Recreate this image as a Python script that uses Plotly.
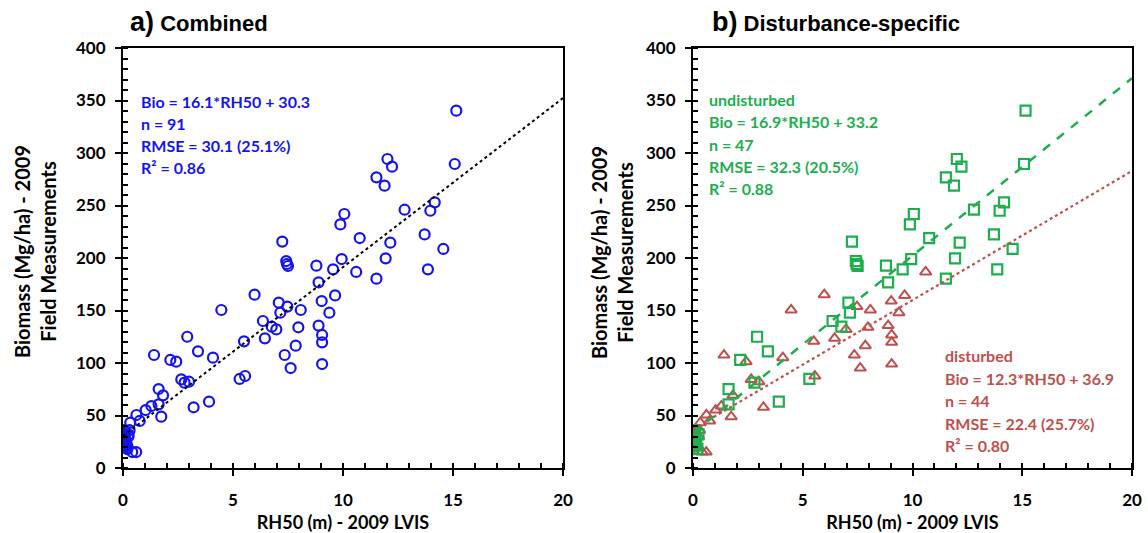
import plotly.graph_objects as go

# ---------------- data ----------------
undist_x = [15.15, 15.08, 12.02, 12.23, 11.52, 11.89, 12.8, 14.17, 13.97, 10.06,
            9.88, 10.76, 13.71, 7.24, 12.15, 14.56, 7.42, 7.45, 7.5, 9.94,
            11.94, 8.79, 9.55, 13.86, 11.52, 8.89, 7.08, 7.15, 6.36, 6.76,
            2.92, 3.41, 2.15, 5.3, 1.62, 1.62, 3.91, 2.8,
            0.0, 0.1, 0.05, 0.0, 0.2, 0.15, 0.05, 0.25, 0.1]
undist_y = [340.3, 289.5, 294.3, 287.0, 276.8, 268.9, 246.0, 253.0, 245.0, 241.9,
            232.0, 219.0, 222.5, 215.6, 214.6, 208.6, 197.1, 194.3, 192.4, 199.0,
            199.7, 192.7, 189.2, 189.2, 180.3, 176.8, 157.5, 147.9, 140.0, 134.6,
            125.0, 111.1, 102.9, 84.8, 75.2, 60.6, 63.2, 81.3,
            33.0, 34.5, 30.0, 20.3, 18.0, 22.0, 36.0, 32.0, 25.0]

dist_x = [10.6, 5.98, 9.64, 7.47, 9.03, 4.47, 8.08, 9.38, 6.97, 7.97,
          8.89, 6.45, 5.5, 9.05, 9.05, 7.85, 1.41, 4.09, 7.35, 2.42,
          9.05, 7.62, 2.65, 3.0, 5.55, 1.82, 1.03, 1.29, 3.21, 1.74,
          0.61, 0.76, 0.33, 0.6,
          0.42, 0.1, 0.15, 0.2, 0.1, 0.05, 0.25, 0.3, 0.0, 0.18]
dist_y = [186.7, 165.1, 164.4, 153.7, 159.0, 150.5, 150.5, 147.9, 132.0, 134.0,
          135.6, 123.5, 120.6, 126.7, 119.7, 116.5, 107.6, 105.1, 107.6, 101.3,
          99.0, 95.2, 84.4, 82.2, 87.6, 69.2, 55.2, 59.0, 57.8, 48.9,
          50.5, 44.8, 43.2, 15.2,
          15.2, 28.0, 24.0, 21.0, 32.0, 26.0, 30.0, 36.0, 22.0, 19.0]

comb_x = undist_x + dist_x
comb_y = undist_y + dist_y

fit_x = [0, 20]
comb_fit = (16.1, 30.3)
undist_fit = (16.9, 33.2)
dist_fit = (12.3, 36.9)

comb_text = ["Bio = 16.1*RH50 + 30.3", "n = 91", "RMSE = 30.1 (25.1%)", "R² = 0.86"]
undist_text = ["undisturbed", "Bio = 16.9*RH50 + 33.2", "n = 47", "RMSE = 32.3 (20.5%)", "R² = 0.88"]
dist_text = ["disturbed", "Bio = 12.3*RH50 + 36.9", "n = 44", "RMSE = 22.4 (25.7%)", "R² = 0.80"]

x_ticks = [0, 5, 10, 15, 20]
y_ticks = [0, 50, 100, 150, 200, 250, 300, 350, 400]

# ---------------- styling ----------------
W, H = 1148, 533
BLUE = "#1414F0"
GREEN = "#1DAF4E"
RED = "#C0504D"
FONT = "Lato"


def px(x):
    return x / W


def py(y):
    return 1 - y / H


fig = go.Figure()

# left panel
fig.add_trace(go.Scatter(x=comb_x, y=comb_y, mode="markers", xaxis="x", yaxis="y",
                         marker=dict(symbol="circle-open", size=10, color=BLUE, line=dict(width=2.2, color=BLUE)),
                         showlegend=False))
fig.add_trace(go.Scatter(x=fit_x, y=[comb_fit[0] * v + comb_fit[1] for v in fit_x], mode="lines",
                         xaxis="x", yaxis="y", line=dict(color="black", width=2, dash="dot"), showlegend=False))

# right panel
fig.add_trace(go.Scatter(x=dist_x, y=dist_y, mode="markers", xaxis="x2", yaxis="y2",
                         marker=dict(symbol="triangle-up-open", size=10, color=RED, line=dict(width=2, color=RED)),
                         showlegend=False))
fig.add_trace(go.Scatter(x=undist_x, y=undist_y, mode="markers", xaxis="x2", yaxis="y2",
                         marker=dict(symbol="square-open", size=10, color=GREEN, line=dict(width=2.2, color=GREEN)),
                         showlegend=False))
fig.add_trace(go.Scatter(x=fit_x, y=[dist_fit[0] * v + dist_fit[1] for v in fit_x], mode="lines",
                         xaxis="x2", yaxis="y2", line=dict(color=RED, width=2.2, dash="dot"), showlegend=False))
fig.add_trace(go.Scatter(x=fit_x, y=[undist_fit[0] * v + undist_fit[1] for v in fit_x], mode="lines",
                         xaxis="x2", yaxis="y2", line=dict(color=GREEN, width=2.5, dash="dash"), showlegend=False))

ydom = [py(468), py(48)]

common_x = dict(range=[0, 20], tickvals=x_ticks, ticks="outside", ticklen=6, tickwidth=2, tickcolor="black",
                minor=dict(dtick=1, ticks="inside", ticklen=5, tickwidth=1.5, tickcolor="black"),
                showline=True, linecolor="black", linewidth=2, mirror=True, showgrid=False, zeroline=False,
                automargin=False,
                tickfont=dict(family=FONT, size=17, color="black", weight="bold"), ticklabelstandoff=10,
                title=dict(text="RH50 (m) - 2009 LVIS", font=dict(family=FONT, size=18, color="black", weight="bold"),
                           standoff=10))
common_y = dict(range=[0, 400], tickvals=y_ticks, ticks="outside", ticklen=6, tickwidth=2, tickcolor="black",
                minor=dict(dtick=10, ticks="inside", ticklen=5, tickwidth=1.5, tickcolor="black"),
                showline=True, linecolor="black", linewidth=2, mirror=True, showgrid=False, zeroline=False,
                automargin=False,
                tickfont=dict(family=FONT, size=17, color="black", weight="bold"), ticklabelstandoff=6,
                domain=ydom)

fig.update_layout(
    width=W, height=H, margin=dict(l=0, r=0, t=0, b=0),
    paper_bgcolor="white", plot_bgcolor="white",
    xaxis=dict(common_x, domain=[px(123), px(563)], anchor="y"),
    yaxis=dict(common_y, anchor="x"),
    xaxis2=dict(common_x, domain=[px(693), px(1132)], anchor="y2"),
    yaxis2=dict(common_y, anchor="x2"),
)

ann = []
# panel titles
ann.append(dict(x=px(128), y=py(22), xref="paper", yref="paper", xanchor="left", yanchor="middle",
                text="<span style='font-size:27px'>a)</span> Combined", showarrow=False,
                font=dict(family="Liberation Sans", size=22, color="black", weight="bold")))
ann.append(dict(x=px(710), y=py(22), xref="paper", yref="paper", xanchor="left", yanchor="middle",
                text="<span style='font-size:27px'>b)</span> Disturbance-specific", showarrow=False,
                font=dict(family="Liberation Sans", size=22, color="black", weight="bold")))
# y titles
for xc in (35, 612):
    ann.append(dict(x=px(xc), y=py(252), xref="paper", yref="paper", xanchor="center", yanchor="middle",
                    text="Biomass (Mg/ha) - 2009<br>Field Measurements", textangle=-90, showarrow=False,
                    font=dict(family=FONT, size=20, color="black", weight="bold")))

# stat texts
for i, t in enumerate(comb_text):
    ann.append(dict(x=px(139), y=py(101 + 22.3 * i), xref="paper", yref="paper", xanchor="left",
                    yanchor="middle", text=t, showarrow=False,
                    font=dict(family=FONT, size=16, color=BLUE, weight="bold")))
for i, t in enumerate(undist_text):
    ann.append(dict(x=px(707), y=py(99.3 + 22.4 * i), xref="paper", yref="paper", xanchor="left",
                    yanchor="middle", text=t, showarrow=False,
                    font=dict(family=FONT, size=16, color=GREEN, weight="bold")))
for i, t in enumerate(dist_text):
    ann.append(dict(x=px(943), y=py(355.7 + 22.5 * i), xref="paper", yref="paper", xanchor="left",
                    yanchor="middle", text=t, showarrow=False,
                    font=dict(family=FONT, size=16, color=RED, weight="bold")))

fig.update_layout(annotations=ann)
fig.write_html("out.html")
